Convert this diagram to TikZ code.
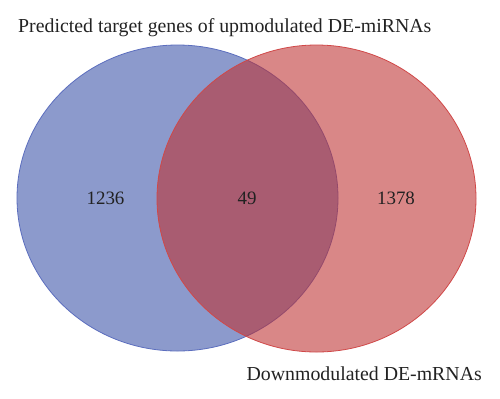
\documentclass[tikz,border=0pt]{standalone}
\usepackage{fontspec}
\setmainfont{Liberation Serif}
\definecolor{bluefill}{RGB}{140,154,204}
\definecolor{blueline}{RGB}{92,110,190}
\definecolor{redbase}{RGB}{190,48,48}
\definecolor{redline}{RGB}{208,72,72}
\definecolor{txt}{RGB}{34,34,34}
\tikzset{
  lbl/.style={font=\fontsize{19.9}{23}\selectfont, text=txt, inner sep=0pt},
  num/.style={font=\fontsize{19}{22}\selectfont, text=txt, inner sep=0pt},
}
\begin{document}
\begin{tikzpicture}[x=1bp,y=-1bp]
\useasboundingbox (0,0) rectangle (500,398);
\fill[bluefill] (177.5,198) ellipse [x radius=160.5bp, y radius=153bp];
\draw[blueline, line width=0.8bp] (177.5,198) ellipse [x radius=160.5bp, y radius=153bp];
\fill[redbase, fill opacity=0.58] (316.5,198.5) ellipse [x radius=159.5bp, y radius=153.5bp];
\draw[redline, line width=0.8bp] (316.5,198.5) ellipse [x radius=159.5bp, y radius=153.5bp];
\node[num] (n1) at (105.5,198) {1236};
\node[num] (n2) at (247,198) {49};
\node[num] (n3) at (396,198) {1378};
\node[lbl, anchor=base west] (t1) at (18,32) {Predicted target genes of upmodulated DE-miRNAs};
\node[lbl, anchor=base east] (t2) at (482,380) {Downmodulated DE-mRNAs};
\end{tikzpicture}
\end{document}
